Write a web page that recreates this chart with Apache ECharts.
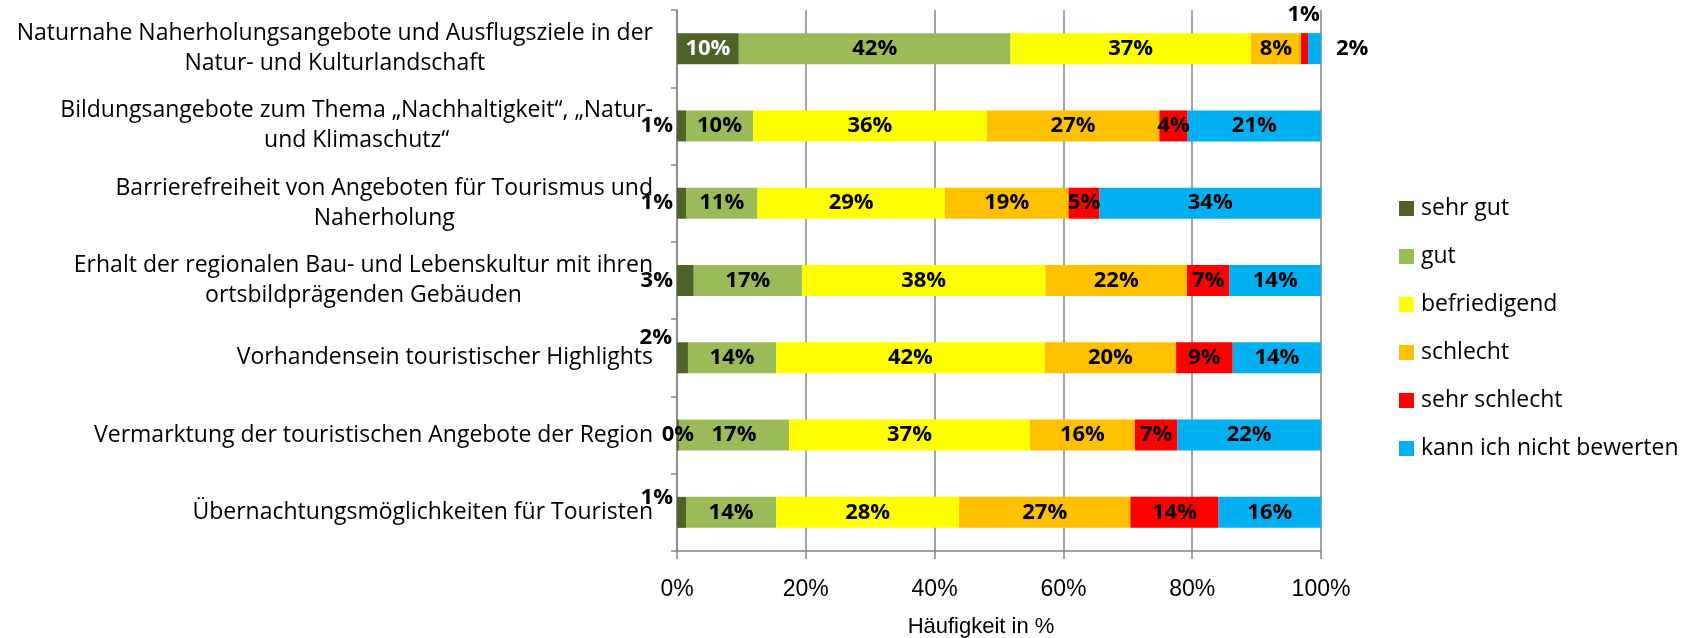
<!DOCTYPE html>
<html>
<head>
<meta charset="utf-8">
<script src="https://cdn.jsdelivr.net/npm/echarts@6/dist/echarts.min.js"></script>
<style>
  html, body { margin: 0; padding: 0; background: #fff; }
  #chart { width: 1692px; height: 638px; }
</style>
</head>
<body>
<div id="chart"></div>
<script>
const categories = [
  'Naturnahe Naherholungsangebote und Ausflugsziele in der\nNatur- und Kulturlandschaft',
  'Bildungsangebote zum Thema „Nachhaltigkeit“, „Natur-\nund Klimaschutz“',
  'Barrierefreiheit von Angeboten für Tourismus und\nNaherholung',
  'Erhalt der regionalen Bau- und Lebenskultur mit ihren\nortsbildprägenden Gebäuden',
  'Vorhandensein touristischer Highlights',
  'Vermarktung der touristischen Angebote der Region',
  'Übernachtungsmöglichkeiten für Touristen'
];

const seriesNames = ['sehr gut', 'gut', 'befriedigend', 'schlecht', 'sehr schlecht', 'kann ich nicht bewerten'];

// Anteile in % je Kategorie (von oben nach unten)
const sehrGut      = [9.6, 1.4, 1.4, 2.6, 1.7, 0.3, 1.4];
const gut          = [42.2, 10.4, 11.1, 16.8, 13.7, 17.1, 14.0];
const befriedigend = [37.3, 36.3, 29.1, 37.8, 41.7, 37.4, 28.4];
const schlecht     = [7.8, 26.8, 19.2, 22.0, 20.4, 16.3, 26.6];
const sehrSchlecht = [1.1, 4.4, 4.8, 6.6, 8.8, 6.6, 13.7];
const kannNicht    = [2.0, 20.7, 34.4, 14.2, 13.7, 22.3, 15.9];

const xTicks = [0, 20, 40, 60, 80, 100];

const values = [sehrGut, gut, befriedigend, schlecht, sehrSchlecht, kannNicht];
const colors = ['#4F6228', '#9BBB59', '#FFFF00', '#FFC000', '#FF0000', '#00B0F0'];

const labelFont = '"Open Sans", sans-serif';
const axisFont = '"Liberation Sans", Arial, sans-serif';

// Labels that Excel moved out of their segment: [series, row] -> label options
const labelOverrides = {
  '0-0': { color: '#fff' },
  '0-1': { position: 'left', distance: 4 },
  '0-2': { position: 'left', distance: 4 },
  '0-3': { position: 'left', distance: 4 },
  '0-4': { position: 'left', distance: 5, offset: [0, -20] },
  '0-6': { position: 'left', distance: 4, offset: [0, -15] },
  '4-0': { position: 'top', distance: 4, offset: [-1, -3] },
  '5-0': { position: 'right', distance: 15 }
};

const series = values.map((arr, s) => ({
  name: seriesNames[s],
  type: 'bar',
  stack: 'total',
  barWidth: 31,
  itemStyle: { color: colors[s] },
  label: {
    show: true,
    position: 'inside',
    color: '#000',
    fontFamily: labelFont,
    fontWeight: 'bold',
    fontSize: 22,
    formatter: p => Math.round(p.value) + '%'
  },
  data: arr.map((v, i) => {
    const o = labelOverrides[s + '-' + i];
    return o ? { value: v, label: o } : v;
  })
}));

const chart = echarts.init(document.getElementById('chart'));
chart.setOption({
  animation: false,
  backgroundColor: '#fff',
  grid: { left: 677, right: 371, top: 10, bottom: 87, containLabel: false, outerBoundsMode: 'none' },
  legend: {
    orient: 'vertical',
    left: 1394,
    top: 192,
    icon: 'rect',
    itemWidth: 15,
    itemHeight: 15,
    itemGap: 25,
    textStyle: { fontFamily: labelFont, fontSize: 23, color: '#000', padding: [0, 0, 0, 2] },
    data: seriesNames
  },
  xAxis: {
    type: 'value',
    min: 0,
    max: 100,
    interval: 20,
    name: 'Häufigkeit in %',
    nameLocation: 'middle',
    nameGap: 65,
    nameTextStyle: { fontFamily: axisFont, fontSize: 22, color: '#000', padding: [0, 36, 0, 0] },
    axisLine: { show: true, lineStyle: { color: '#868686', width: 1.5 } },
    axisTick: { show: true, length: 8, lineStyle: { color: '#868686', width: 1.5 } },
    axisLabel: {
      margin: 27,
      fontFamily: axisFont,
      fontSize: 23,
      color: '#000',
      formatter: v => xTicks.includes(v) ? v + '%' : ''
    },
    splitLine: { show: true, lineStyle: { color: '#868686', width: 1.5 } }
  },
  yAxis: {
    type: 'category',
    inverse: true,
    data: categories,
    axisLine: { show: true, lineStyle: { color: '#868686', width: 1.5 } },
    axisTick: { show: true, length: 6, lineStyle: { color: '#868686', width: 1.5 } },
    axisLabel: {
      interval: 0,
      margin: 24,
      formatter: v => v.split('\n').map(l => '{c|' + l + '}').join('\n'),
      rich: {
        c: { align: 'center', fontFamily: labelFont, fontSize: 23, lineHeight: 30, color: '#000' }
      }
    }
  },
  series: series
});
</script>
</body>
</html>
